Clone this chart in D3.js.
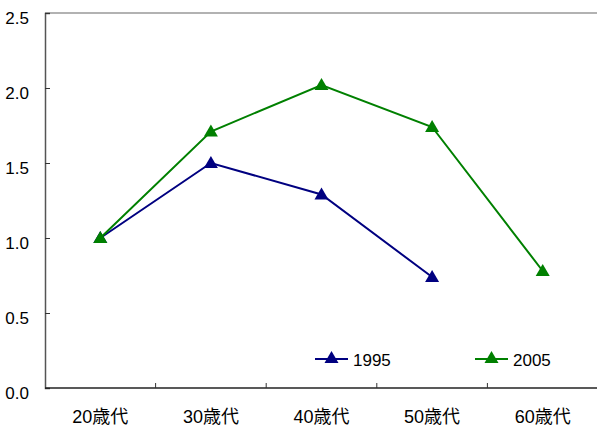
<!DOCTYPE html>
<html>
<head>
<meta charset="utf-8">
<script src="https://cdn.jsdelivr.net/npm/d3@7"></script>
<style>
  body { margin: 0; background: #fff; }
  svg text { font-family: "Liberation Sans", Arial, "Noto Sans CJK JP", sans-serif; font-size: 17px; fill: #000; }
</style>
</head>
<body>
<script>
// chart data
const categories = ['20歳代', '30歳代', '40歳代', '50歳代', '60歳代'];
const values1995 = [1.0, 1.5, 1.29, 0.74, null];
const values2005 = [1.0, 1.71, 2.02, 1.74, 0.78];
const yTicks = [0, 0.5, 1.0, 1.5, 2.0, 2.5];
const seriesNames = ['1995', '2005'];
const seriesColors = ['#000080', '#008000'];

const width = 597, height = 430;
const margin = {left: 45, top: 13, right: -1, bottom: 42};

const svg = d3.select('body').append('svg')
  .attr('width', width)
  .attr('height', height);

const x = d3.scaleBand()
  .domain(categories)
  .range([margin.left, width - margin.right]);

const y = d3.scaleLinear()
  .domain([0, 2.5])
  .range([height - margin.bottom, margin.top]);

// top border of plot area
svg.append('line')
  .attr('x1', margin.left).attr('x2', width)
  .attr('y1', y(2.5)).attr('y2', y(2.5))
  .attr('stroke', '#999').attr('stroke-width', 1.5);

// y axis
const yAxis = svg.append('g')
  .attr('transform', `translate(${margin.left},0)`)
  .call(d3.axisRight(y).tickValues(yTicks).tickSize(5).tickFormat(d3.format('.1f')));
yAxis.attr('font-size', null).attr('font-family', null);
yAxis.select('.domain').attr('stroke', '#555').attr('stroke-width', 1.5);
yAxis.selectAll('.tick line').attr('stroke', '#333');
yAxis.selectAll('.tick text')
  .attr('x', -16).attr('text-anchor', 'end').attr('dy', 10);

// x axis, ticks between categories
const xAxis = svg.append('g')
  .attr('transform', `translate(0,${y(0)})`);
xAxis.append('line')
  .attr('x1', margin.left).attr('x2', width)
  .attr('stroke', '#222').attr('stroke-width', 1.5);
xAxis.selectAll('.sep')
  .data(categories.slice(1))
  .enter().append('line')
  .attr('class', 'sep')
  .attr('x1', d => x(d)).attr('x2', d => x(d))
  .attr('y1', 0).attr('y2', -5)
  .attr('stroke', '#333');
xAxis.selectAll('.lab')
  .data(categories)
  .enter().append('text')
  .attr('class', 'lab')
  .attr('x', d => x(d) + x.bandwidth() / 2)
  .attr('y', 35)
  .attr('text-anchor', 'middle')
  .style('font-size', '18px')
  .text(d => d);

const tri = d3.symbol().type(d3.symbolTriangle).size(85);
const series = [values1995, values2005];

series.forEach((vals, i) => {
  const pts = categories.map((c, j) => ({c: c, v: vals[j]})).filter(d => d.v != null);
  const line = d3.line()
    .x(d => x(d.c) + x.bandwidth() / 2)
    .y(d => y(d.v));
  svg.append('path')
    .datum(pts)
    .attr('d', line)
    .attr('fill', 'none')
    .attr('stroke', seriesColors[i])
    .attr('stroke-width', 2);
  svg.selectAll('.m' + i)
    .data(pts)
    .enter().append('path')
    .attr('class', 'm' + i)
    .attr('d', tri)
    .attr('fill', seriesColors[i])
    .attr('transform', d => `translate(${x(d.c) + x.bandwidth() / 2},${y(d.v) + 1})`);
});

// legend
const legendX = [315, 475];
const legendY = 359;
seriesNames.forEach((name, i) => {
  const g = svg.append('g').attr('transform', `translate(${legendX[i]},${legendY})`);
  g.append('line').attr('x1', 0).attr('x2', 33)
    .attr('stroke', seriesColors[i]).attr('stroke-width', 2);
  g.append('path').attr('d', tri).attr('fill', seriesColors[i])
    .attr('transform', 'translate(16.5,0)');
  g.append('text').attr('x', 38).attr('y', 7).text(name);
});
</script>
</body>
</html>
